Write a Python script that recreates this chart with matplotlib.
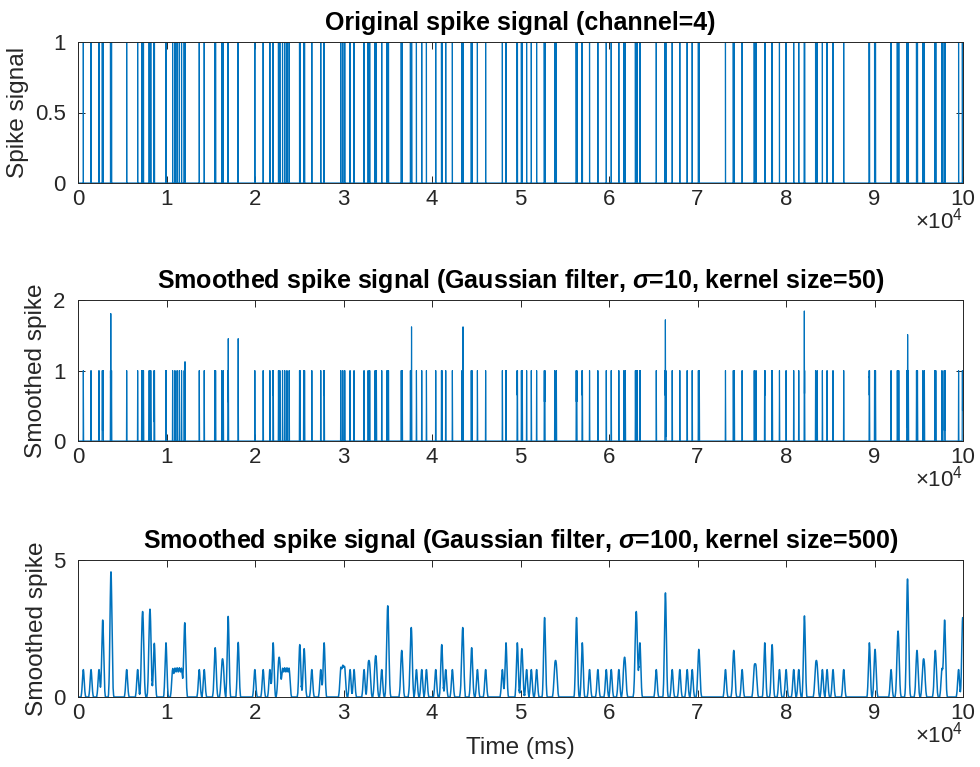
import numpy as np
import matplotlib
matplotlib.use("Agg")
import matplotlib.pyplot as plt

# Spike times (ms)
spike_times_ms = [
    600, 1470, 2370, 2745, 2790, 2835,
    3670, 3700, 3709, 3760, 3790,
    5500, 6740, 7201, 7267, 7333, 7399,
    8037, 8099, 8161, 8223, 8600, 8640,
    9925, 9955, 10690, 10950, 11200, 11450, 11700,
    11996, 12080, 12102, 13700, 14260, 15454, 15546,
    16245, 16415, 16938, 16970, 16986, 18092, 18108,
    19980, 20920, 21680, 22035, 22065, 22650, 22810,
    23110, 23360, 23610, 23860, 25030, 25090, 25500, 25600,
    26420, 27430, 27795, 27825, 29690, 29920, 30140,
    30740, 31190, 32320, 32780, 32960, 33565, 33715, 34320,
    34916, 34972, 35028, 35084, 36523, 36637,
    37560, 37680, 37693, 38240, 38840, 39370,
    40420, 41070, 41130, 41550, 42300,
    43380, 43500, 43513, 44434, 44526, 45130, 46060,
    47950, 48345, 48375, 49625, 49655, 50100, 50200,
    50690, 51220, 51820, 52688, 52720, 52752, 53870, 54050,
    56298, 56330, 56362, 56965, 56995, 57800, 58740,
    59690, 60250, 61110, 61680, 61840,
    62981, 63047, 63113, 63179, 63475, 63505, 65340,
    66335, 66365, 66376, 66425, 67140, 68000, 68830, 69400,
    70097, 70203, 73160, 74043, 74157, 75040, 76410, 76610,
    77585, 77615, 78400, 78460, 79260, 80010, 80870, 81440,
    82066, 82074, 82104, 83340, 83520, 84110, 84640, 85310, 86520,
    89405, 89435, 90007, 90113, 91870, 92576, 92660, 92744,
    93654, 93697, 93735, 93750, 93826, 94743, 94857,
    95465, 95635, 96813, 96927, 97620, 97875, 97920, 97965,
    99500, 99930, 99965, 99995,
]
n_samples = 100000
sigmas = [10, 100]
kernel_sizes = [50, 500]

titles = [
    "Original spike signal (channel=4)",
    r"Smoothed spike signal (Gaussian filter, $\sigma$=10, kernel size=50)",
    r"Smoothed spike signal (Gaussian filter, $\sigma$=100, kernel size=500)",
]
ylabels = ["Spike signal", "Smoothed spike", "Smoothed spike"]
yticks = [[0, 0.5, 1], [0, 1, 2], [0, 5]]
yticklabels = [["0", "0.5", "1"], ["0", "1", "2"], ["0", "5"]]
ylims = [(0, 1), (0, 2), (0, 5)]
xticks = list(range(0, 100001, 10000))
xticklabels = [str(i) for i in range(11)]
exponent_label = r"$\times10^{4}$"

t = np.arange(1, n_samples + 1)
sig = np.zeros(n_samples)
sig[np.array(spike_times_ms) - 1] = 1.0

def smooth(x, sigma, size):
    n = np.arange(size) - (size - 1) / 2.0
    k = np.exp(-n ** 2 / (2.0 * sigma ** 2))
    return np.convolve(x, k, mode="same")

signals = [sig] + [smooth(sig, s, k) for s, k in zip(sigmas, kernel_sizes)]
line_widths = [0.85, 0.85, 1.1]

plt.rcParams["font.family"] = ["Liberation Sans", "DejaVu Sans"]
plt.rcParams["mathtext.fontset"] = "custom"
plt.rcParams["mathtext.it"] = "Liberation Sans:italic:bold"
plt.rcParams["mathtext.rm"] = "Liberation Sans"
plt.rcParams["mathtext.bf"] = "Liberation Sans:bold"

axcol = "#262626"
W, H = 980, 767
fig = plt.figure(figsize=(W / 100, H / 100), dpi=100)
boxes = [(42, 183), (300, 441), (560, 697)]
left, right = 78, 963
axes = []
for i in range(3):
    top, bot = boxes[i]
    ax = fig.add_axes([left / W, 1 - bot / H, (right - left) / W, (bot - top) / H])
    ax.plot(t, signals[i], color="#0072BD", lw=line_widths[i])
    ax.set_xlim(0, n_samples)
    ax.set_ylim(*ylims[i])
    ax.set_xticks(xticks)
    ax.set_xticklabels(xticklabels)
    ax.set_yticks(yticks[i])
    ax.set_yticklabels(yticklabels[i])
    ax.tick_params(direction="in", top=True, right=True, length=5, width=0.7,
                   colors=axcol, labelsize=16)
    ax.tick_params(axis="y", pad=9)
    ax.tick_params(axis="x", pad=4)
    for sp in ax.spines.values():
        sp.set_color(axcol)
        sp.set_linewidth(0.7)
    ax.set_title(titles[i], fontsize=18, fontweight="bold", color="black", pad=8.5)
    ax.set_ylabel(ylabels[i], fontsize=17.6, color=axcol, labelpad=4)
    if i == 2:
        ax.set_xlabel("Time (ms)", fontsize=17.6, color=axcol, labelpad=10)
    axes.append(ax)

# place the exponent label just below the last x tick label of each axes
fig.canvas.draw()
renderer = fig.canvas.get_renderer()
for ax in axes:
    lab = ax.get_xticklabels()[-1]
    bb = lab.get_window_extent(renderer)
    y_top = (bb.y0 + 2) / fig.bbox.height
    fig.text((right) / W, y_top, exponent_label, ha="right", va="top",
             fontsize=16, color=axcol)

fig.savefig("out.png", dpi=100)
